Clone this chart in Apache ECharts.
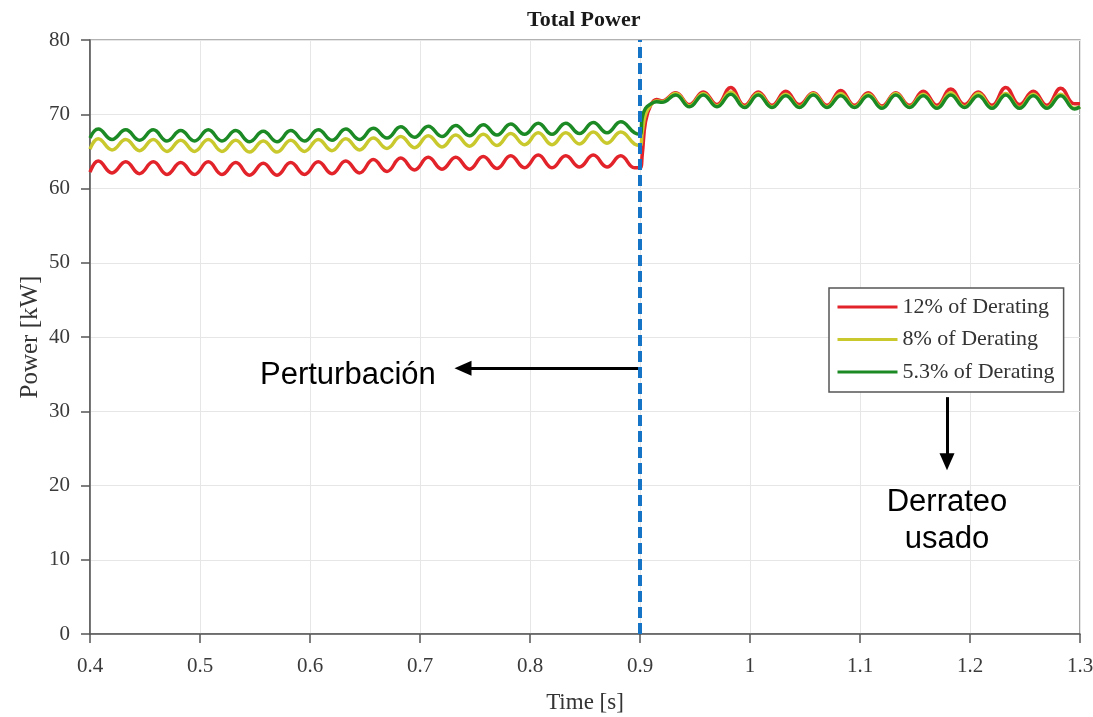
<!DOCTYPE html>
<html>
<head>
<meta charset="utf-8">
<script src="https://cdn.jsdelivr.net/npm/echarts@6/dist/echarts.min.js"></script>
<style>
  html, body { margin: 0; padding: 0; background: #fff; }
  #chart { width: 1093px; height: 717px; }
</style>
</head>
<body>
<div id="chart"></div>
<script>
// sample times [s]: start, then alternating peak / trough, the step at 0.9, then peak / trough again
var time = [
  0.4,
  0.4075, 0.42, 0.4325, 0.445, 0.4575, 0.47, 0.4825, 0.495, 0.5075, 0.52,
  0.5325, 0.545, 0.5575, 0.57, 0.5825, 0.595, 0.6075, 0.62, 0.6325, 0.645,
  0.6575, 0.67, 0.6825, 0.695, 0.7075, 0.72, 0.7325, 0.745, 0.7575, 0.77,
  0.7825, 0.795, 0.8075, 0.82, 0.8325, 0.845, 0.8575, 0.87, 0.8825, 0.895,
  0.9, 0.902, 0.905, 0.91, 0.915, 0.92,
  0.9325, 0.945, 0.9575, 0.97, 0.9825, 0.995, 1.0075, 1.02, 1.0325, 1.045,
  1.0575, 1.07, 1.0825, 1.095, 1.1075, 1.12, 1.1325, 1.145, 1.1575, 1.17,
  1.1825, 1.195, 1.2075, 1.22, 1.2325, 1.245, 1.2575, 1.27, 1.2825, 1.295,
  1.3
];

var red = [
  62.2,
  63.7, 62.1, 63.6, 62.0, 63.6, 61.9, 63.5, 61.9, 63.6, 61.9,
  63.5, 61.8, 63.4, 61.8, 63.5, 61.9, 63.6, 62.0, 63.7, 62.1,
  63.9, 62.3, 64.1, 62.5, 64.2, 62.6, 64.2, 62.6, 64.3, 62.7,
  64.4, 62.8, 64.5, 62.8, 64.4, 62.9, 64.5, 62.9, 64.4, 62.8,
  62.8, 64.5, 69.0, 71.3, 72.0, 71.8,
  72.9, 71.3, 73.0, 71.3, 73.6, 71.2, 73.0, 71.2, 73.1, 71.3,
  72.9, 71.2, 73.2, 71.2, 72.9, 71.1, 72.9, 71.2, 73.1, 71.2,
  73.4, 71.3, 73.0, 71.2, 73.6, 71.3, 73.1, 71.2, 73.5, 71.4,
  71.4
];

var yellow = [
  65.3,
  66.7, 65.2, 66.6, 65.1, 66.6, 65.0, 66.5, 65.0, 66.6, 65.0,
  66.5, 64.9, 66.4, 64.9, 66.5, 65.0, 66.6, 65.1, 66.7, 65.2,
  66.8, 65.4, 67.0, 65.5, 67.1, 65.6, 67.2, 65.7, 67.3, 65.8,
  67.4, 65.9, 67.5, 65.9, 67.5, 66.0, 67.6, 66.1, 67.6, 66.0,
  65.8, 67.5, 70.0, 71.3, 71.8, 71.7,
  72.8, 71.1, 72.8, 71.1, 73.0, 71.0, 72.8, 71.0, 72.7, 71.0,
  72.8, 71.0, 72.8, 71.0, 72.7, 70.9, 72.8, 71.0, 72.7, 70.9,
  72.9, 71.0, 72.8, 70.9, 72.8, 70.9, 72.7, 70.9, 72.7, 70.8,
  71.0
];

var green = [
  66.8,
  68.0, 66.6, 67.9, 66.5, 67.9, 66.4, 67.8, 66.4, 67.9, 66.4,
  67.8, 66.3, 67.7, 66.3, 67.8, 66.4, 67.9, 66.5, 68.0, 66.6,
  68.1, 66.8, 68.3, 66.9, 68.4, 67.0, 68.5, 67.1, 68.6, 67.2,
  68.7, 67.3, 68.8, 67.3, 68.8, 67.4, 68.9, 67.5, 69.0, 67.5,
  67.3, 69.5, 70.8, 71.4, 71.7, 71.6,
  72.6, 71.0, 72.6, 71.0, 72.7, 70.9, 72.6, 70.9, 72.5, 70.9,
  72.6, 70.9, 72.5, 70.9, 72.5, 70.8, 72.6, 70.9, 72.5, 70.8,
  72.6, 70.9, 72.5, 70.8, 72.6, 70.8, 72.5, 70.8, 72.5, 70.7,
  71.0
];

var seriesNames = ['12% of Derating', '8% of Derating', '5.3% of Derating'];
var xTickLabels = ['0.4', '0.5', '0.6', '0.7', '0.8', '0.9', '1', '1.1', '1.2', '1.3'];
var disturbanceTime = 0.9;

function pairs(values) {
  return time.map(function (t, i) { return [t, values[i]]; });
}

var serif = '"Liberation Serif", "DejaVu Serif", serif';
var sans = '"Liberation Sans", Arial, sans-serif';

var chart = echarts.init(document.getElementById('chart'));

function waveSeries(name, values, color) {
  return {
    name: name,
    type: 'line',
    data: pairs(values),
    smooth: 0.45,
    showSymbol: false,
    symbol: 'none',
    lineStyle: { color: color, width: 3.5 },
    itemStyle: { color: color },
    z: 2
  };
}

var option = {
  backgroundColor: '#ffffff',
  animation: false,
  title: {
    text: 'Total Power',
    left: 522,
    top: 4,
    textStyle: { fontFamily: serif, fontWeight: 'bold', fontSize: 22, color: '#1a1a1a' }
  },
  grid: {
    left: 90, right: 13, top: 40, bottom: 83,
    show: true,
    borderColor: '#666',
    borderWidth: 1.2,
    outerBoundsMode: 'none'
  },
  legend: {
    data: seriesNames,
    orient: 'vertical',
    left: 829,
    top: 288,
    padding: [8, 9, 9, 7],
    itemWidth: 60,
    itemHeight: 20,
    itemGap: 10.5,
    backgroundColor: '#fff',
    borderColor: '#555',
    borderWidth: 1.5,
    itemStyle: { opacity: 0 },
    lineStyle: { width: 3 },
    textStyle: { fontFamily: serif, fontSize: 22, color: '#333', lineHeight: 20 }
  },
  xAxis: {
    type: 'value',
    min: 0.4,
    max: 1.3,
    interval: 0.1,
    name: 'Time [s]',
    nameLocation: 'middle',
    nameGap: 57,
    nameTextStyle: { fontFamily: serif, fontSize: 23, color: '#333' },
    axisLine: { show: true, lineStyle: { color: '#555', width: 1.5 } },
    axisTick: { show: true, length: 9, lineStyle: { color: '#555', width: 1.5 } },
    axisLabel: {
      fontFamily: serif, fontSize: 21, color: '#3a3a3a', margin: 22,
      formatter: function (v) { return xTickLabels[Math.round(v * 10) - 4]; }
    },
    splitLine: { show: true, lineStyle: { color: '#e6e6e6', width: 1 } }
  },
  yAxis: {
    type: 'value',
    min: 0,
    max: 80,
    interval: 10,
    name: 'Power [kW]',
    nameLocation: 'middle',
    nameGap: 47,
    nameMoveOverlap: false,
    nameTextStyle: { fontFamily: serif, fontSize: 25, color: '#333' },
    axisLine: { show: true, lineStyle: { color: '#555', width: 1.5 } },
    axisTick: { show: true, length: 9, lineStyle: { color: '#555', width: 1.5 } },
    axisLabel: { fontFamily: serif, fontSize: 21, color: '#3a3a3a', margin: 20 },
    splitLine: { show: true, lineStyle: { color: '#e6e6e6', width: 1 } }
  },
  series: [
    waveSeries(seriesNames[0], red, '#e2232a'),
    waveSeries(seriesNames[1], yellow, '#c9c92e'),
    waveSeries(seriesNames[2], green, '#1c8a24'),
    {
      // disturbance marker
      name: 'marker',
      type: 'line',
      data: [],
      z: 6,
      markLine: {
        silent: true,
        symbol: ['none', 'none'],
        label: { show: false },
        lineStyle: { color: '#1674c6', width: 4, type: [11, 5] },
        data: [{ xAxis: disturbanceTime }]
      }
    },
    {
      // annotation arrows
      name: 'arrows',
      type: 'line',
      data: [],
      z: 7,
      markLine: {
        silent: true,
        label: { show: false },
        lineStyle: { color: '#000', width: 3, type: 'solid' },
        data: [
          [
            { coord: [0.8982, 35.8], symbol: 'none' },
            { coord: [0.7391, 35.8], symbol: 'triangle', symbolSize: [15, 17] }
          ],
          [
            { coord: [1.1791, 31.9], symbol: 'none' },
            { coord: [1.1791, 23.2], symbol: 'triangle', symbolSize: [15, 17] }
          ]
        ]
      }
    }
  ],
  graphic: [
    {
      type: 'text', left: 260, top: 360, z: 10,
      style: { text: 'Perturbación', font: '31px ' + sans, fill: '#000' }
    },
    {
      type: 'text', z: 10,
      style: {
        text: 'Derrateo\nusado', x: 947, y: 484, align: 'center', verticalAlign: 'top',
        font: '31px ' + sans, lineHeight: 37, fill: '#000'
      }
    }
  ]
};

chart.setOption(option);
</script>
</body>
</html>
